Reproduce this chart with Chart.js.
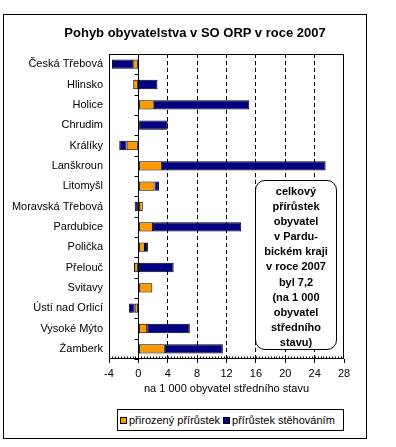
<!DOCTYPE html>
<html>
<head>
<meta charset="utf-8">
<script src="https://cdn.jsdelivr.net/npm/chart.js@4.4.1/dist/chart.umd.min.js"></script>
<style>
  body { margin: 0; background: #fff; font-family: "Liberation Sans", Arial, sans-serif; }
  #wrap { position: relative; width: 396px; height: 447px; }
  #frame { position: absolute; left: 3px; top: 14px; width: 364px; height: 425px; border: 1px solid #000; box-sizing: border-box; }
  #chart { position: absolute; left: 0; top: 0; }
  #title {
    position: absolute; left: 0; top: 25px; width: 390px; text-align: center;
    font-weight: bold; font-size: 13px; line-height: 15px;
  }
  #note {
    position: absolute; left: 255px; top: 180px; width: 82px; height: 170px;
    box-sizing: border-box; border: 1px solid #000; border-radius: 10px; background: #fff;
    font-weight: bold; font-size: 11px; line-height: 15.1px; text-align: center; padding-top: 3px;
  }
  #legend {
    position: absolute; left: 117px; top: 409px; width: 227px; height: 22px;
    box-sizing: border-box; border: 1px solid #000; background: #fff;
    font-size: 11px; display: flex; align-items: center; padding-left: 1px;
  }
  #legend span.sw { display: inline-block; width: 7px; height: 7px; border: 1px solid #000; box-sizing: border-box; margin: 0 2px 0 1px; }
  #legend span.item { display: inline-flex; align-items: center; margin-right: 2px; }
</style>
</head>
<body>
<div id="wrap">
  <div id="frame"></div>
  <canvas id="chart" width="396" height="447"></canvas>
  <div id="title">Pohyb obyvatelstva v SO ORP v roce 2007</div>
  <div id="note">celkový<br>přírůstek<br>obyvatel<br>v Pardu-<br>bickém kraji<br>v roce 2007<br>byl 7,2<br>(na 1 000<br>obyvatel<br>středního<br>stavu)</div>
  <div id="legend"></div>
</div>
<script>
const categories = ["Česká Třebová", "Hlinsko", "Holice", "Chrudim", "Králíky", "Lanškroun", "Litomyšl",
  "Moravská Třebová", "Pardubice", "Polička", "Přelouč", "Svitavy", "Ústí nad Orlicí", "Vysoké Mýto", "Žamberk"];
const naturalGrowth = [-0.7, -0.7, 2.1, 0.1, -1.6, 3.2, 2.2, 0.6, 2.0, 0.9, -0.6, 1.9, -0.5, 1.2, 3.6];
const migrationGrowth = [-2.9, 2.6, 13.0, 3.9, -1.0, 22.3, 0.6, -0.5, 12.0, 0.4, 4.8, 0.0, -0.8, 5.8, 7.9];
const seriesNames = ["přirozený přírůstek", "přírůstek stěhováním"];
const seriesColors = ["#FF9900", "#000080"];
const xMin = -4, xMax = 28, xStep = 4;

Chart.defaults.font.family = '"Liberation Sans", Arial, sans-serif';
Chart.defaults.color = '#000';

// plot border, zero axis with category ticks, minor ticks on the bottom
const plotFrame = {
    id: 'plotFrame',
    afterDatasetsDraw(chart) {
        const { ctx, chartArea: a, scales: { x, y } } = chart;
        const L = Math.round(a.left) + 0.5, R = Math.round(a.right) - 0.5;
        const T = Math.round(a.top) + 0.5, B = Math.round(a.bottom) - 0.5;
        ctx.save();
        ctx.strokeStyle = '#000';
        ctx.lineWidth = 1;
        ctx.strokeRect(L, T, R - L, B - T);

        const x0 = Math.round(x.getPixelForValue(0)) + 0.5;
        ctx.beginPath();
        ctx.moveTo(x0, T);
        ctx.lineTo(x0, B);
        for (let i = 0; i <= categories.length; i++) {
            const yy = Math.round(y.getPixelForValue(i - 0.5)) + 0.5;
            ctx.moveTo(x0 - 4, yy);
            ctx.lineTo(x0, yy);
        }
        const nMinor = Math.round((xMax - xMin) / 0.4);
        for (let k = 1; k < nMinor; k++) {
            const xx = Math.round(x.getPixelForValue(xMin + k * 0.4)) + 0.5;
            ctx.moveTo(xx, B);
            ctx.lineTo(xx, B - 2);
        }
        ctx.stroke();
        ctx.restore();
    }
};

new Chart(document.getElementById('chart'), {
    type: 'bar',
    data: {
        labels: categories,
        datasets: [
            { label: seriesNames[0], data: naturalGrowth, backgroundColor: seriesColors[0] },
            { label: seriesNames[1], data: migrationGrowth, backgroundColor: seriesColors[1] }
        ].map(d => Object.assign(d, {
            borderColor: '#000', borderWidth: 1, borderSkipped: false,
            barPercentage: 0.46, categoryPercentage: 1
        }))
    },
    options: {
        indexAxis: 'y',
        responsive: false,
        animation: false,
        layout: { padding: { left: 0, right: 52, top: 54, bottom: 40 } },
        scales: {
            x: {
                stacked: true,
                min: xMin, max: xMax,
                ticks: { stepSize: xStep, font: { size: 11 }, padding: 4, color: '#000' },
                grid: {
                    color: c => [xMin, 0, xMax].includes(c.tick.value) ? 'rgba(0,0,0,0)' : '#000',
                    tickColor: '#000', tickLength: 4, lineWidth: 1
                },
                border: { display: false, dash: [4, 3] },
                title: { display: true, text: 'na 1 000 obyvatel středního stavu', font: { size: 11 }, padding: { top: 0, bottom: 11 } },
                afterFit(s) { s.height = 48; }
            },
            y: {
                stacked: true,
                grid: { display: false, drawTicks: false },
                border: { display: false },
                ticks: { font: { size: 11 }, padding: 6, color: '#000' },
                afterFit(s) { s.width = 109; }
            }
        },
        plugins: {
            legend: { display: false },
            tooltip: { enabled: false },
            title: { display: false }
        }
    },
    plugins: [plotFrame]
});

// legend
const legend = document.getElementById('legend');
seriesNames.forEach((name, i) => {
    const item = document.createElement('span');
    item.className = 'item';
    item.innerHTML = '<span class="sw" style="background:' + seriesColors[i] + '"></span>' + name;
    legend.appendChild(item);
});
</script>
</body>
</html>
